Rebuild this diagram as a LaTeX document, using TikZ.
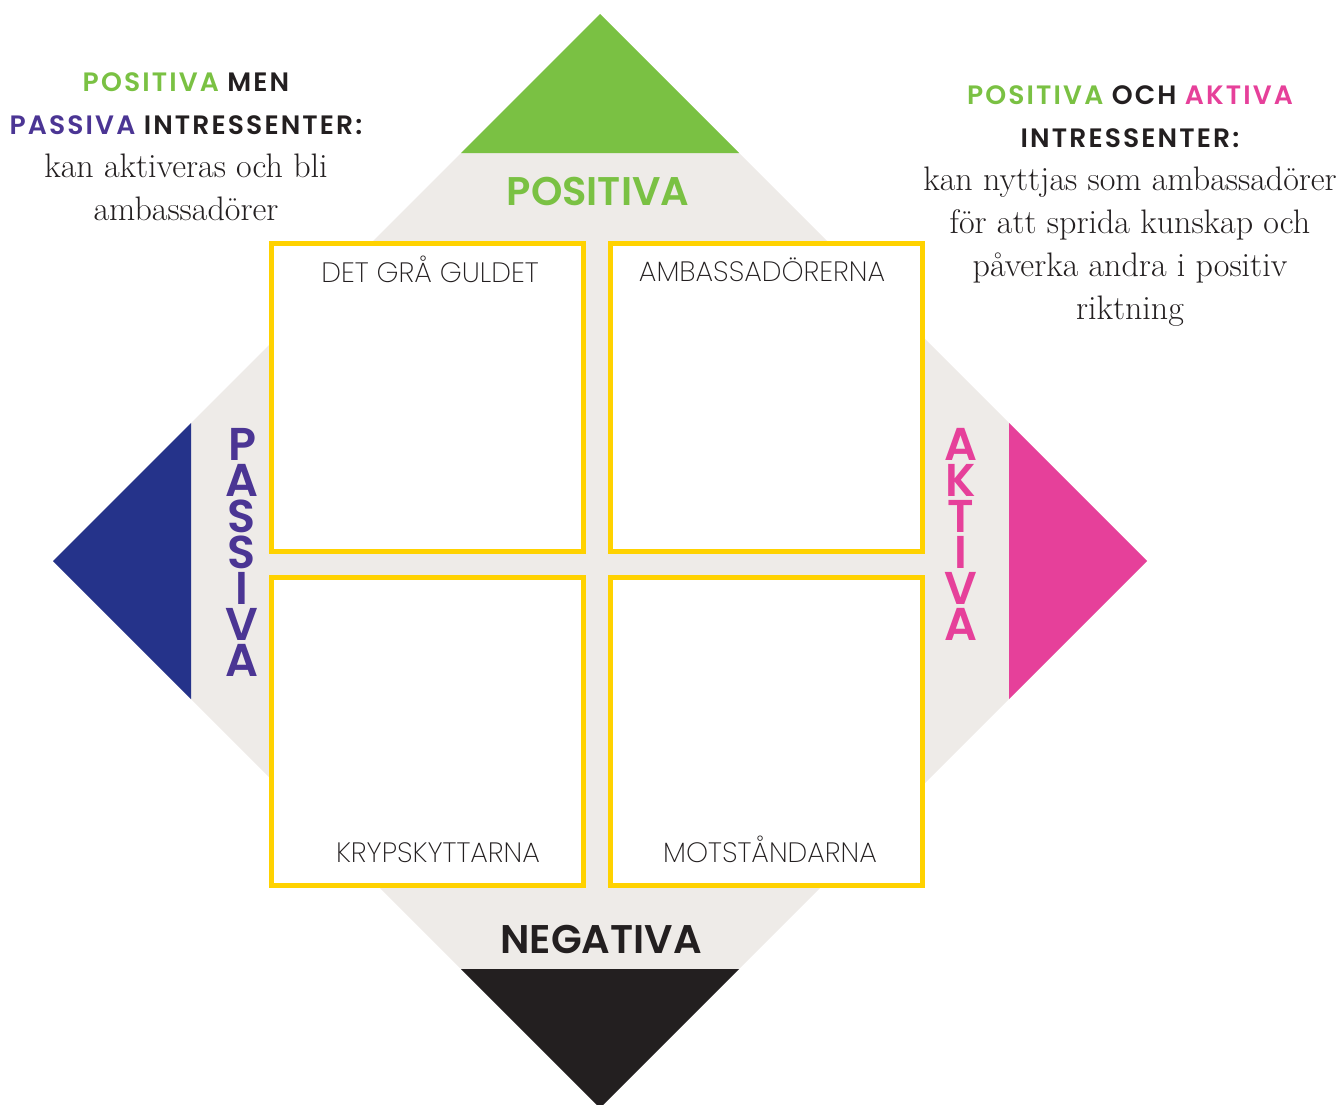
\documentclass[tikz,border=0pt]{standalone}
\usepackage{fontspec}
\newfontfamily\headfont{Poppins SemiBold}
\newfontfamily\spacedfont{Poppins SemiBold}[LetterSpace=8]
\newfontfamily\lightfont{Poppins ExtraLight}
\definecolor{posgreen}{HTML}{7AC143}
\definecolor{pasblue}{HTML}{25338A}
\definecolor{paspurple}{HTML}{4B3594}
\definecolor{aktpink}{HTML}{E6409A}
\definecolor{negblack}{HTML}{231F20}
\definecolor{diagrey}{HTML}{EEEBE8}
\definecolor{boxyellow}{HTML}{FFD200}
\newcommand\notehead[1]{{\spacedfont\fontsize{13.3}{21.5}\selectfont #1}}
\begin{document}
\begin{tikzpicture}[x=0.5pt,y=-0.5pt,
    quadrant/.style={draw=boxyellow,line width=2.5pt,fill=white,
      minimum width=156pt,minimum height=154pt,inner sep=0pt},
    boxlabel/.style={anchor=base,inner sep=0pt,text=negblack,
      font=\lightfont\fontsize{14}{14}\selectfont},
    axislabel/.style={anchor=base,inner sep=0pt,
      font=\headfont\fontsize{20}{20}\selectfont},
    sidelabel/.style={anchor=north,inner sep=0pt,align=center,
      font=\headfont\fontsize{23}{18}\selectfont},
    note/.style={anchor=north,inner sep=0pt,align=center,text=negblack,
      font=\fontsize{17}{21.5}\selectfont}]
  \clip (0,0) rectangle (1343,1104);
  % diamond with coloured tips
  \fill[diagrey] (600,14) -- (1147,561) -- (600,1108) -- (53,561) -- cycle;
  \fill[posgreen] (600,14) -- (739,153) -- (461,153) -- cycle;
  \fill[pasblue] (53,561) -- (191,423) -- (191,699) -- cycle;
  \fill[aktpink] (1147,561) -- (1009,423) -- (1009,699) -- cycle;
  \fill[negblack] (600,1108) -- (461,969) -- (739,969) -- cycle;
  % quadrants
  \node[quadrant] (guld) at (427.5,397) {};
  \node[quadrant] (ambass) at (766.5,397) {};
  \node[quadrant] (kryp) at (427.5,731) {};
  \node[quadrant] (mot) at (766.5,731) {};
  \node[boxlabel] (guldtext) at (430,282) {DET GRÅ GULDET};
  \node[boxlabel] (ambasstext) at (762,281) {AMBASSADÖRERNA};
  \node[boxlabel] (kryptext) at (438,862) {KRYPSKYTTARNA};
  \node[boxlabel] (mottext) at (770,862) {MOTSTÅNDARNA};
  % axis labels
  \node[axislabel,text=posgreen] (positiva) at (598,205) {POSITIVA};
  \node[axislabel,text=negblack] (negativa) at (601,953) {NEGATIVA};
  \node[sidelabel,text=paspurple] (passiva) at (242,428) {P\\A\\S\\S\\I\\V\\A};
  \node[sidelabel,text=aktpink] (aktiva) at (961,428) {A\\K\\T\\I\\V\\A};
  % notes
  \node[note] (leftnote) at (186,72) {%
    \notehead{{\color{posgreen}POSITIVA} MEN}\\
    \notehead{{\color{paspurple}PASSIVA} INTRESSENTER:}\\
    kan aktiveras och bli\\
    ambassadörer};
  \node[note] (rightnote) at (1130,85) {%
    \notehead{{\color{posgreen}POSITIVA} OCH {\color{aktpink}AKTIVA}}\\
    \notehead{INTRESSENTER:}\\
    kan nyttjas som ambassadörer\\
    för att sprida kunskap och\\
    påverka andra i positiv\\
    riktning};
\end{tikzpicture}
\end{document}
